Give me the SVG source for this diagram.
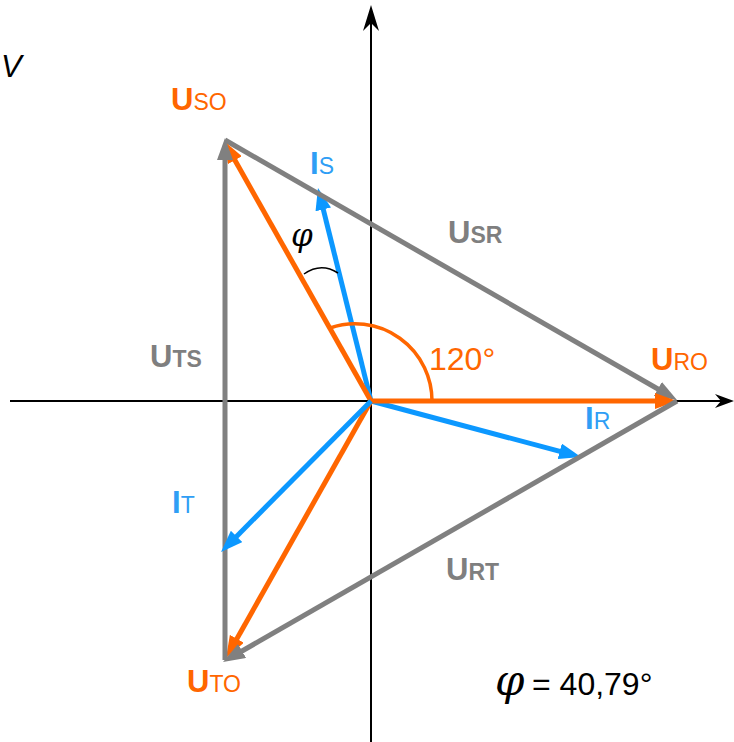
<svg xmlns="http://www.w3.org/2000/svg" width="734" height="742" viewBox="0 0 734 742">
<style>
.ax{stroke:#000;stroke-width:2;fill:none}
.vo{stroke:#FF6600;stroke-width:5;fill:none;marker-end:url(#ah-o)}
.vg{stroke:#808080;stroke-width:5;fill:none;marker-end:url(#ah-g)}
.vb{stroke:#0C98FF;stroke-width:5;fill:none;marker-end:url(#ah-b)}
.lbl{font-family:"Liberation Sans",Arial,sans-serif;font-size:31px;font-weight:bold}
.sub{font-size:23px}
.o{fill:#FF6600}
.g{fill:#7F7F7F}
.b{fill:#2F9EF5}
.num{font-family:"Liberation Sans",Arial,sans-serif;font-size:32px}
.phi{font-family:"DejaVu Serif",serif;font-style:italic;fill:#000}
</style>
<defs>
<marker id="ah-o" viewBox="0 0 22 16" markerWidth="22" markerHeight="16" refX="7" refY="8" orient="auto" markerUnits="userSpaceOnUse"><path d="M0,0 L22,8 L0,16 z" fill="#FF6600"/></marker>
<marker id="ah-g" viewBox="0 0 22 16" markerWidth="22" markerHeight="16" refX="7" refY="8" orient="auto" markerUnits="userSpaceOnUse"><path d="M0,0 L22,8 L0,16 z" fill="#808080"/></marker>
<marker id="ah-b" viewBox="0 0 22 16" markerWidth="22" markerHeight="16" refX="7" refY="8" orient="auto" markerUnits="userSpaceOnUse"><path d="M0,0 L22,8 L0,16 z" fill="#0C98FF"/></marker>
<marker id="ax-v" viewBox="0 0 26 16" markerWidth="26" markerHeight="16" refX="18" refY="8" orient="auto" markerUnits="userSpaceOnUse"><path d="M0,0 L26,8 L0,16 L8,8 z" fill="#000"/></marker>
<marker id="ax-h" viewBox="0 0 19 14" markerWidth="19" markerHeight="14" refX="13" refY="7" orient="auto" markerUnits="userSpaceOnUse"><path d="M0,0 L19,7 L0,14 L6,7 z" fill="#000"/></marker>
</defs>
<rect width="734" height="742" fill="#fff"/>
<g id="axes">
<line class="ax" x1="10" y1="401" x2="728" y2="401" marker-end="url(#ax-h)"/>
<line class="ax" x1="371" y1="742" x2="371" y2="13" marker-end="url(#ax-v)"/>
</g>
<g id="connectors">
<line id="I_S" class="vb" x1="371" y1="401" x2="321.6" y2="202.6"/>
<line id="I_R" class="vb" x1="371" y1="401" x2="566.5" y2="453.1"/>
<line id="U_SR" class="vg" x1="225" y1="140" x2="664" y2="392.5"/>
<line id="U_RO" class="vo" x1="371" y1="401" x2="662" y2="401"/>
<line id="U_SO" class="vo" x1="371" y1="401" x2="231.4" y2="154.1"/>
<line id="U_TO" class="vo" x1="371" y1="401" x2="233.4" y2="644.9"/>
<line id="U_TS" class="vg" x1="225" y1="660" x2="225" y2="153"/>
<line id="U_RT" class="vg" x1="677" y1="401" x2="236" y2="654.5"/>
<line id="I_T" class="vb" x1="371" y1="401" x2="231.6" y2="541.4"/>
<path id="arc120" d="M432,401 A77,77 0 0 0 330,328" fill="none" stroke="#FF6600" stroke-width="3.5"/>
<path id="arcphi" d="M304,274 Q321,262 338,273" fill="none" stroke="#000" stroke-width="1.5"/>
</g>
<g id="labels">
<text id="t-V" x="1" y="77" font-family="Liberation Sans, Arial, sans-serif" font-style="italic" font-size="31" fill="#000">V</text>
<text id="t-USO" class="lbl o" x="171" y="110">U<tspan class="sub" font-weight="normal">SO</tspan></text>
<text id="t-IS" class="lbl b" x="310" y="174">I<tspan class="sub" font-weight="normal">S</tspan></text>
<text id="t-USR" class="lbl g" x="448" y="243">U<tspan class="sub">SR</tspan></text>
<text id="t-URO" class="lbl o" x="651" y="370">U<tspan class="sub" font-weight="normal">RO</tspan></text>
<text id="t-IR" class="lbl b" x="585" y="429">I<tspan class="sub" font-weight="normal">R</tspan></text>
<text id="t-UTS" class="lbl g" x="150" y="367">U<tspan class="sub">TS</tspan></text>
<text id="t-IT" class="lbl b" x="172" y="513">I<tspan class="sub" font-weight="normal">T</tspan></text>
<text id="t-UTO" class="lbl o" x="187" y="692">U<tspan class="sub" font-weight="normal">TO</tspan></text>
<text id="t-URT" class="lbl g" x="446" y="580">U<tspan class="sub">RT</tspan></text>
<text id="t-120" class="num o" x="429" y="370">120°</text>
<text id="t-phi" class="phi" x="291" y="246" font-size="31">φ</text>
<text id="t-phival" x="495" y="695"><tspan class="phi" font-size="42">φ</tspan><tspan class="num" x="532" fill="#000">= 40,79°</tspan></text>
</g>
</svg>
